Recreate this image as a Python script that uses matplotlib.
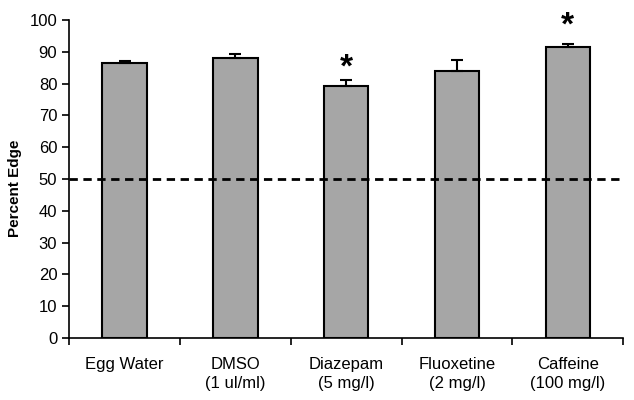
import matplotlib
matplotlib.use("Agg")
import matplotlib.pyplot as plt
import numpy as np

categories = ["Egg Water", "DMSO\n(1 ul/ml)", "Diazepam\n(5 mg/l)", "Fluoxetine\n(2 mg/l)", "Caffeine\n(100 mg/l)"]
values = [86.5, 88.0, 79.2, 83.9, 91.4]
errors = [0.7, 1.3, 2.0, 3.5, 1.0]
significant = [False, False, True, False, True]
star_levels = [None, None, 85.0, None, 98.2]
y_ticks = [0, 10, 20, 30, 40, 50, 60, 70, 80, 90, 100]
chance_level = 50

plt.rcParams['font.family'] = ['Liberation Sans', 'DejaVu Sans']

fig = plt.figure(figsize=(6.34, 4.0), dpi=100)
ax = fig.add_axes([0.109, 0.155, 0.874, 0.795])

x = np.arange(len(categories))
ax.bar(x, values, width=0.40, color="#a6a6a6", edgecolor="black", linewidth=1.5, zorder=2)
ax.errorbar(x, values, yerr=[np.zeros(len(errors)), errors], fmt="none",
            ecolor="black", elinewidth=1.5, capsize=4, capthick=1.5, zorder=3)

for xi, s, lvl in zip(x, significant, star_levels):
    if s:
        ax.text(xi, lvl, "*", ha="center", va="center", fontsize=24, fontweight="bold")

ax.axhline(chance_level, xmin=0, xmax=0.995, color="black", linestyle=(0, (3, 2)), linewidth=2, zorder=4)

ax.set_xlim(-0.5, len(categories) - 0.5)
ax.set_ylim(0, 100)
ax.set_yticks(y_ticks)
ax.set_xticks(x)
ax.set_xticklabels(categories, fontsize=12, linespacing=1.3)
ax.set_xticks(np.arange(len(categories) + 1) - 0.5, minor=True)
ax.tick_params(axis="x", which="major", length=0, pad=14)
ax.tick_params(axis="x", which="minor", length=5, width=1.2, direction="out")
ax.tick_params(axis="y", labelsize=12, length=5, width=1.2, direction="out")
ax.set_ylabel("Percent Edge", fontsize=11, fontweight="bold")
ax.yaxis.set_label_coords(-0.085, 0.47)

for side in ["top", "right"]:
    ax.spines[side].set_visible(False)
for side in ["left", "bottom"]:
    ax.spines[side].set_linewidth(1.2)

fig.savefig("out.png", dpi=100)
